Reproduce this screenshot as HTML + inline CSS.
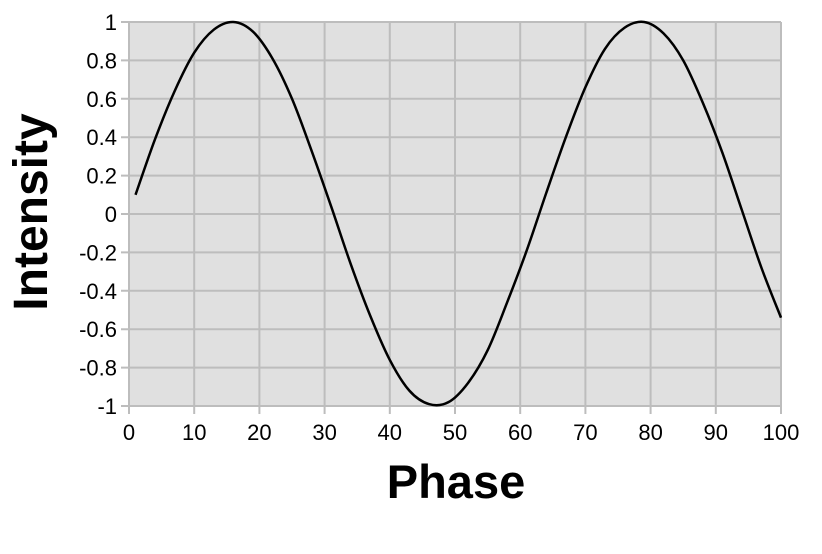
<!DOCTYPE html>
<html><head><meta charset="utf-8"><style>
html,body{margin:0;padding:0;background:#fff;}
svg{display:block;font-family:"Liberation Sans",Arial,sans-serif;}
</style></head><body>
<svg id="chart" width="822" height="554"></svg>
<script>
const xValues=[1,4,7,10,13,16,19,22,25,28,31,34,37,40,43,46,49,52,55,58,61,64,67,70,73,76,79,82,85,88,91,94,97,100];
const intensity=[0.10,0.39,0.64,0.84,0.96,1.00,0.95,0.81,0.60,0.33,0.04,-0.26,-0.53,-0.76,-0.92,-0.99,-0.98,-0.88,-0.71,-0.46,-0.19,0.11,0.40,0.66,0.86,0.97,1.00,0.94,0.80,0.58,0.32,0.02,-0.28,-0.54];
const xTicks=[0,10,20,30,40,50,60,70,80,90,100];
const yTicks=[1,0.8,0.6,0.4,0.2,0,-0.2,-0.4,-0.6,-0.8,-1];

const NS="http://www.w3.org/2000/svg";
const svg=document.getElementById('chart');
const L=129,R=781,T=22,B=406;
const sx=v=>L+(v-0)/(100-0)*(R-L);
const sy=v=>B-(v+1)/2*(B-T);
function mk(tag,attrs,parent){const e=document.createElementNS(NS,tag);for(const k in attrs)e.setAttribute(k,attrs[k]);(parent||svg).appendChild(e);return e;}

const bg=mk('rect',{x:L,y:T,width:R-L,height:B-T,fill:'#e0e0e0'});



xTicks.forEach(t=>{
  const g=mk('line',{x1:sx(t),x2:sx(t),y1:T,y2:B+8,stroke:'#bdbdbd','stroke-width':2});
  
  
  const lb=mk('text',{x:sx(t),y:B+34,'text-anchor':'middle','font-size':22,fill:'#000'});
  lb.textContent=t;
  
  
});
yTicks.forEach(t=>{
  const g=mk('line',{x1:L-8,x2:R,y1:sy(t),y2:sy(t),stroke:'#bdbdbd','stroke-width':2});
  
  
  const lb=mk('text',{x:L-12,y:sy(t)+8,'text-anchor':'end','font-size':22,fill:'#000'});
  lb.textContent=t;
  
  
});

const pts=xValues.map((x,i)=>[sx(x),sy(intensity[i])]);
let d='M'+pts[0][0]+','+pts[0][1];
for(let i=0;i<pts.length-1;i++){
  const p0=pts[i-1]||pts[i],p1=pts[i],p2=pts[i+1],p3=pts[i+2]||p2;
  const c1=[p1[0]+(p2[0]-p0[0])/6,p1[1]+(p2[1]-p0[1])/6];
  const c2=[p2[0]-(p3[0]-p1[0])/6,p2[1]-(p3[1]-p1[1])/6];
  d+=' C'+c1+' '+c2+' '+p2;
}
const line=mk('path',{d:d,fill:'none',stroke:'#000','stroke-width':2.5});



const xt=mk('text',{x:456,y:498,'text-anchor':'middle','font-size':47,'font-weight':'bold',fill:'#000'});
xt.textContent='Phase';


const yt=mk('text',{x:0,y:0,'text-anchor':'middle','font-size':48,'font-weight':'bold',fill:'#000',transform:'translate(47,212) rotate(-90)'});
yt.textContent='Intensity';


</script>
</body></html>
